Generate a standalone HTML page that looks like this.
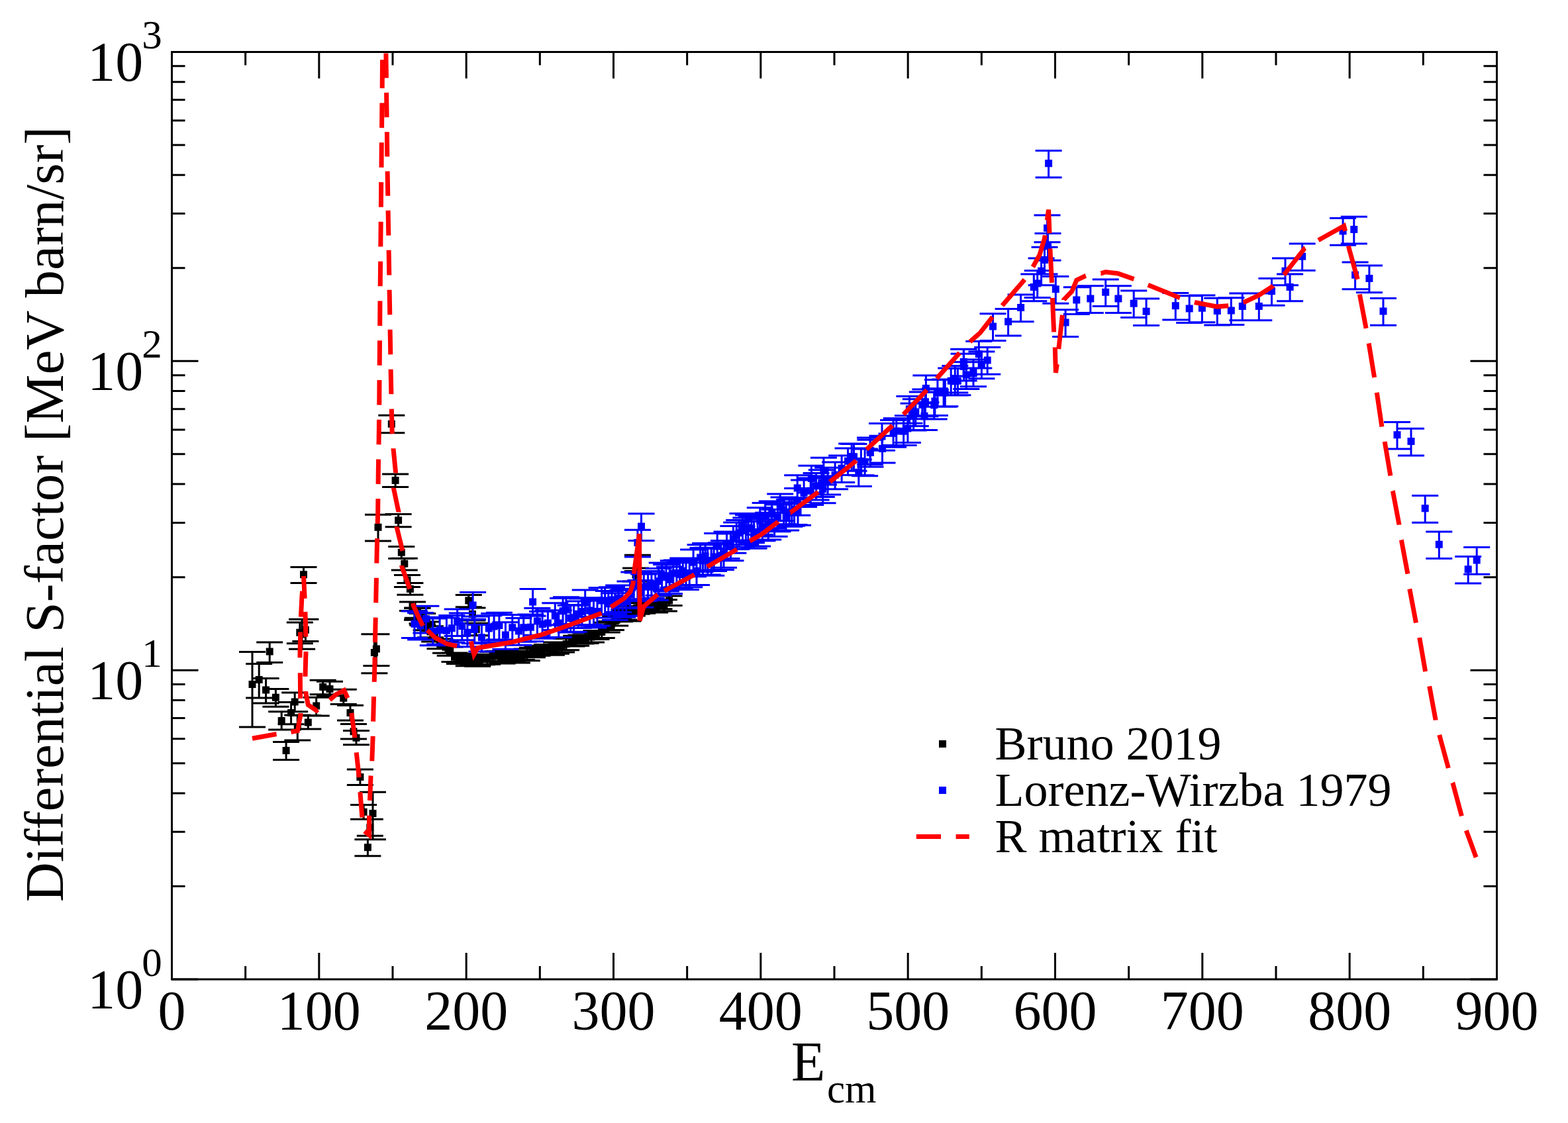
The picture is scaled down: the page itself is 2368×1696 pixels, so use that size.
<!DOCTYPE html><html><head><meta charset="utf-8"><style>html,body{margin:0;padding:0;background:#fff;}svg{display:block}</style></head><body>
<svg width="2368" height="1696" viewBox="0 0 2368 1696" font-family="Liberation Serif, Times New Roman, serif">
<rect x="0" y="0" width="2368" height="1696" fill="#fff"/>
<defs><clipPath id="cp"><rect x="259.5" y="78.5" width="2001" height="1400.5"/></clipPath></defs>
<g clip-path="url(#cp)">
<path d="M381.0 984.4V1098.0M361.0 984.4H401.0M361.0 1098.0H401.0M391.2 1002.4V1054.0M371.2 1002.4H411.2M371.2 1054.0H411.2M401.6 1024.4V1062.0M381.6 1024.4H421.6M381.6 1062.0H421.6M407.2 970.0V1000.4M387.2 970.0H427.2M387.2 1000.4H427.2M432.1 1120.5V1147.5M412.1 1120.5H452.1M412.1 1147.5H452.1M449.3 1080.0V1117.9M429.3 1080.0H469.3M429.3 1117.9H469.3M416.4 1040.4V1067.2M396.4 1040.4H436.4M396.4 1067.2H436.4M425.2 1074.8V1102.0M405.2 1074.8H445.2M405.2 1102.0H445.2M439.6 1060.4V1093.7M419.6 1060.4H459.6M419.6 1093.7H459.6M445.2 1046.0V1074.8M425.2 1046.0H465.2M425.2 1074.8H465.2M452.8 940.0V971.7M432.8 940.0H472.8M432.8 971.7H472.8M456.1 935.3V980.3M436.1 935.3H476.1M436.1 980.3H476.1M461.4 935.3V968.4M441.4 935.3H481.4M441.4 968.4H481.4M458.5 856.5V880.4M438.5 856.5H478.5M438.5 880.4H478.5M465.3 1080.5V1101.0M445.3 1080.5H485.3M445.3 1101.0H485.3M477.7 1053.2V1080.9M457.7 1053.2H497.7M457.7 1080.9H497.7M487.7 1027.2V1048.8M467.7 1027.2H507.7M467.7 1048.8H507.7M498.0 1029.2V1050.8M478.0 1029.2H518.0M478.0 1050.8H518.0M518.8 1041.2V1063.4M498.8 1041.2H538.8M498.8 1063.4H538.8M529.0 1065.3V1087.9M509.0 1065.3H549.0M509.0 1087.9H549.0M534.0 1093.4V1116.1M514.0 1093.4H554.0M514.0 1116.1H554.0M538.0 1103.6V1124.8M518.0 1103.6H558.0M518.0 1124.8H558.0M543.9 1162.0V1185.6M523.9 1162.0H563.9M523.9 1185.6H563.9M549.1 1215.4V1237.3M529.1 1215.4H569.1M529.1 1237.3H569.1M555.4 1267.8V1292.7M535.4 1267.8H575.4M535.4 1292.7H575.4M558.8 1237.3V1262.2M538.8 1237.3H578.8M538.8 1262.2H578.8M563.0 1196.2V1267.8M543.0 1196.2H583.0M543.0 1267.8H583.0M565.4 957.8V1016.7M545.4 957.8H585.4M545.4 1016.7H585.4M568.4 957.8V1005.5M548.4 957.8H588.4M548.4 1005.5H588.4M571.0 777.2V816.9M551.0 777.2H591.0M551.0 816.9H591.0M591.3 627.3V653.8M571.3 627.3H611.3M571.3 653.8H611.3M597.1 716.0V735.4M577.1 716.0H617.1M577.1 735.4H617.1M601.6 776.4V795.8M581.6 776.4H621.6M581.6 795.8H621.6M606.3 825.4V843.4M586.3 825.4H626.3M586.3 843.4H626.3M610.8 843.3V860.9M590.8 843.3H630.8M590.8 860.9H630.8M615.0 868.5V886.4M595.0 868.5H635.0M595.0 886.4H635.0M619.4 880.4V898.3M599.4 880.4H639.4M599.4 898.3H639.4M630.0 918.5V936.2M610.0 918.5H650.0M610.0 936.2H650.0M638.2 926.5V944.3M618.2 926.5H658.2M618.2 944.3H658.2M707.8 898.4V916.7M687.8 898.4H727.8M687.8 916.7H727.8M962.9 838.3V862.4M942.9 838.3H982.9M942.9 862.4H982.9M960.0 858.0V878.0M940.0 858.0H980.0M940.0 878.0H980.0M713.5 918.0V937.0M693.5 918.0H733.5M693.5 937.0H733.5M719.2 941.3V959.8M699.2 941.3H739.2M699.2 959.8H739.2M623.0 909.1V922.5M603.0 909.1H643.0M603.0 922.5H643.0M630.6 917.9V933.3M610.6 917.9H650.6M610.6 933.3H650.6M637.5 926.5V941.8M617.5 926.5H657.5M617.5 941.8H657.5M643.6 938.9V951.8M623.6 938.9H663.6M623.6 951.8H663.6M649.9 945.8V962.7M629.9 945.8H669.9M629.9 962.7H669.9M656.2 953.0V968.9M636.2 953.0H676.2M636.2 968.9H676.2M664.5 965.0V979.7M644.5 965.0H684.5M644.5 979.7H684.5M673.0 969.1V986.2M653.0 969.1H693.0M653.0 986.2H693.0M679.7 977.0V990.2M659.7 977.0H699.7M659.7 990.2H699.7M686.5 985.9V999.4M666.5 985.9H706.5M666.5 999.4H706.5M693.9 988.0V1002.5M673.9 988.0H713.9M673.9 1002.5H713.9M701.3 987.2V1000.2M681.3 987.2H721.3M681.3 1000.2H721.3M707.8 990.8V1005.7M687.8 990.8H727.8M687.8 1005.7H727.8M714.6 989.7V1004.7M694.6 989.7H734.6M694.6 1004.7H734.6M721.3 989.9V1006.2M701.3 989.9H741.3M701.3 1006.2H741.3M728.0 988.3V1003.7M708.0 988.3H748.0M708.0 1003.7H748.0M736.1 989.0V1003.2M716.1 989.0H756.1M716.1 1003.2H756.1M744.6 984.2V999.0M724.6 984.2H764.6M724.6 999.0H764.6M752.5 983.4V998.6M732.5 983.4H772.5M732.5 998.6H772.5M758.6 985.2V1001.9M738.6 985.2H778.6M738.6 1001.9H778.6M766.0 986.9V1001.1M746.0 986.9H786.0M746.0 1001.1H786.0M773.8 983.7V999.4M753.8 983.7H793.8M753.8 999.4H793.8M780.9 983.5V1001.1M760.9 983.5H800.9M760.9 1001.1H800.9M788.1 983.6V996.5M768.1 983.6H808.1M768.1 996.5H808.1M795.8 980.0V997.8M775.8 980.0H815.8M775.8 997.8H815.8M803.9 978.2V992.8M783.9 978.2H823.9M783.9 992.8H823.9M811.6 975.2V990.3M791.6 975.2H831.6M791.6 990.3H831.6M818.0 975.9V988.8M798.0 975.9H838.0M798.0 988.8H838.0M825.9 973.4V987.3M805.9 973.4H845.9M805.9 987.3H845.9M832.9 976.2V989.2M812.9 976.2H852.9M812.9 989.2H852.9M840.0 970.1V987.3M820.0 970.1H860.0M820.0 987.3H860.0M848.1 971.1V985.1M828.1 971.1H868.1M828.1 985.1H868.1M855.1 964.4V981.7M835.1 964.4H875.1M835.1 981.7H875.1M863.5 962.4V975.9M843.5 962.4H883.5M843.5 975.9H883.5M870.1 960.2V975.3M850.1 960.2H890.1M850.1 975.3H890.1M877.5 959.3V971.9M857.5 959.3H897.5M857.5 971.9H897.5M884.6 956.0V971.5M864.6 956.0H904.6M864.6 971.5H904.6M893.0 954.7V970.0M873.0 954.7H913.0M873.0 970.0H913.0M900.5 952.6V965.5M880.5 952.6H920.5M880.5 965.5H920.5M908.8 946.2V963.4M888.8 946.2H928.8M888.8 963.4H928.8M916.8 940.3V955.0M896.8 940.3H936.8M896.8 955.0H936.8M923.0 938.5V951.5M903.0 938.5H943.0M903.0 951.5H943.0M929.2 931.4V944.9M909.2 931.4H949.2M909.2 944.9H949.2M936.0 926.1V938.7M916.0 926.1H956.0M916.0 938.7H956.0M942.4 921.4V935.9M922.4 921.4H962.4M922.4 935.9H962.4M948.5 922.0V937.9M928.5 922.0H968.5M928.5 937.9H968.5M954.8 915.5V929.9M934.8 915.5H974.8M934.8 929.9H974.8M961.8 910.2V927.2M941.8 910.2H981.8M941.8 927.2H981.8M970.2 911.0V926.2M950.2 911.0H990.2M950.2 926.2H990.2M976.5 907.6V922.0M956.5 907.6H996.5M956.5 922.0H996.5M983.1 910.9V924.4M963.1 910.9H1003.1M963.1 924.4H1003.1M989.2 909.6V924.9M969.2 909.6H1009.2M969.2 924.9H1009.2M995.5 907.1V919.8M975.5 907.1H1015.5M975.5 919.8H1015.5M1002.9 905.8V922.9M982.9 905.8H1022.9M982.9 922.9H1022.9M1010.6 900.1V914.6M990.6 900.1H1030.6M990.6 914.6H1030.6" stroke="#000" stroke-width="3" fill="none"/><path d="M375.5 1028.1h11.0v11.0h-11.0zM385.7 1020.9h11.0v11.0h-11.0zM396.1 1036.5h11.0v11.0h-11.0zM401.7 978.5h11.0v11.0h-11.0zM426.6 1127.9h11.0v11.0h-11.0zM443.8 1092.5h11.0v11.0h-11.0zM410.9 1047.7h11.0v11.0h-11.0zM419.7 1083.0h11.0v11.0h-11.0zM434.1 1071.0h11.0v11.0h-11.0zM439.7 1054.5h11.0v11.0h-11.0zM447.3 949.7h11.0v11.0h-11.0zM450.6 952.3h11.0v11.0h-11.0zM455.9 945.7h11.0v11.0h-11.0zM453.0 862.3h11.0v11.0h-11.0zM459.8 1085.4h11.0v11.0h-11.0zM472.2 1060.5h11.0v11.0h-11.0zM482.2 1032.1h11.0v11.0h-11.0zM492.5 1034.9h11.0v11.0h-11.0zM513.3 1048.7h11.0v11.0h-11.0zM523.5 1070.9h11.0v11.0h-11.0zM528.5 1099.2h11.0v11.0h-11.0zM532.5 1108.7h11.0v11.0h-11.0zM538.4 1168.1h11.0v11.0h-11.0zM543.6 1220.7h11.0v11.0h-11.0zM549.9 1274.3h11.0v11.0h-11.0zM553.3 1244.3h11.0v11.0h-11.0zM557.5 1223.0h11.0v11.0h-11.0zM559.9 980.1h11.0v11.0h-11.0zM562.9 974.5h11.0v11.0h-11.0zM565.5 790.8h11.0v11.0h-11.0zM585.8 634.7h11.0v11.0h-11.0zM591.6 720.1h11.0v11.0h-11.0zM596.1 780.2h11.0v11.0h-11.0zM600.8 828.7h11.0v11.0h-11.0zM605.3 845.8h11.0v11.0h-11.0zM609.5 870.5h11.0v11.0h-11.0zM613.9 884.0h11.0v11.0h-11.0zM624.5 921.5h11.0v11.0h-11.0zM632.7 929.9h11.0v11.0h-11.0zM702.3 901.5h11.0v11.0h-11.0zM957.4 843.5h11.0v11.0h-11.0zM954.5 862.5h11.0v11.0h-11.0zM708.0 922.1h11.0v11.0h-11.0zM713.7 945.1h11.0v11.0h-11.0zM617.5 909.9h11.0v11.0h-11.0zM625.1 919.7h11.0v11.0h-11.0zM632.0 928.3h11.0v11.0h-11.0zM638.1 939.6h11.0v11.0h-11.0zM644.4 948.4h11.0v11.0h-11.0zM650.7 955.1h11.0v11.0h-11.0zM659.0 966.5h11.0v11.0h-11.0zM667.5 971.8h11.0v11.0h-11.0zM674.2 977.8h11.0v11.0h-11.0zM681.0 986.8h11.0v11.0h-11.0zM688.4 989.4h11.0v11.0h-11.0zM695.8 987.9h11.0v11.0h-11.0zM702.3 992.4h11.0v11.0h-11.0zM709.1 991.4h11.0v11.0h-11.0zM715.8 992.1h11.0v11.0h-11.0zM722.5 990.2h11.0v11.0h-11.0zM730.6 990.3h11.0v11.0h-11.0zM739.1 985.7h11.0v11.0h-11.0zM747.0 985.2h11.0v11.0h-11.0zM753.1 987.7h11.0v11.0h-11.0zM760.5 988.2h11.0v11.0h-11.0zM768.3 985.7h11.0v11.0h-11.0zM775.4 986.4h11.0v11.0h-11.0zM782.6 984.3h11.0v11.0h-11.0zM790.3 983.0h11.0v11.0h-11.0zM798.4 979.6h11.0v11.0h-11.0zM806.1 976.9h11.0v11.0h-11.0zM812.5 976.5h11.0v11.0h-11.0zM820.4 974.5h11.0v11.0h-11.0zM827.4 976.9h11.0v11.0h-11.0zM834.5 972.8h11.0v11.0h-11.0zM842.6 972.3h11.0v11.0h-11.0zM849.6 967.1h11.0v11.0h-11.0zM858.0 963.4h11.0v11.0h-11.0zM864.6 961.9h11.0v11.0h-11.0zM872.0 959.8h11.0v11.0h-11.0zM879.1 957.9h11.0v11.0h-11.0zM887.5 956.5h11.0v11.0h-11.0zM895.0 953.2h11.0v11.0h-11.0zM903.3 948.9h11.0v11.0h-11.0zM911.3 941.8h11.0v11.0h-11.0zM917.5 939.2h11.0v11.0h-11.0zM923.7 932.3h11.0v11.0h-11.0zM930.5 926.6h11.0v11.0h-11.0zM936.9 922.8h11.0v11.0h-11.0zM943.0 924.1h11.0v11.0h-11.0zM949.3 916.8h11.0v11.0h-11.0zM956.3 912.8h11.0v11.0h-11.0zM964.7 912.7h11.0v11.0h-11.0zM971.0 909.0h11.0v11.0h-11.0zM977.6 911.8h11.0v11.0h-11.0zM983.7 911.4h11.0v11.0h-11.0zM990.0 907.7h11.0v11.0h-11.0zM997.4 908.4h11.0v11.0h-11.0zM1005.1 901.5h11.0v11.0h-11.0z" fill="#000"/>
<path d="M1478.3 515.4V556.1M1458.3 515.4H1498.3M1458.3 556.1H1498.3M1491.2 524.6V565.3M1471.2 524.6H1511.2M1471.2 565.3H1511.2M1482.4 531.1V571.8M1462.4 531.1H1502.4M1462.4 571.8H1502.4M1455.2 527.4V568.1M1435.2 527.4H1475.2M1435.2 568.1H1475.2M1499.5 473.8V514.5M1479.5 473.8H1519.5M1479.5 514.5H1519.5M1522.6 466.4V507.1M1502.6 466.4H1542.6M1502.6 507.1H1542.6M1541.6 445.1V485.8M1521.6 445.1H1561.6M1521.6 485.8H1561.6M1561.3 414.1V454.8M1541.3 414.1H1581.3M1541.3 454.8H1581.3M1566.7 408.7V449.4M1546.7 408.7H1586.7M1546.7 449.4H1586.7M1572.6 390.0V430.7M1552.6 390.0H1592.6M1552.6 430.7H1592.6M1577.5 373.2V413.9M1557.5 373.2H1597.5M1557.5 413.9H1597.5M1582.5 352.5V393.2M1562.5 352.5H1602.5M1562.5 393.2H1602.5M1581.5 325.1V365.8M1561.5 325.1H1601.5M1561.5 365.8H1601.5M1583.6 227.4V268.1M1563.6 227.4H1603.6M1563.6 268.1H1603.6M1594.3 417.5V458.2M1574.3 417.5H1614.3M1574.3 458.2H1614.3M1609.1 467.8V508.5M1589.1 467.8H1629.1M1589.1 508.5H1629.1M1625.8 433.8V474.5M1605.8 433.8H1645.8M1605.8 474.5H1645.8M1646.8 431.8V472.5M1626.8 431.8H1666.8M1626.8 472.5H1666.8M1669.7 421.9V462.6M1649.7 421.9H1689.7M1649.7 462.6H1689.7M1688.9 431.8V472.5M1668.9 431.8H1708.9M1668.9 472.5H1708.9M1712.2 438.9V479.6M1692.2 438.9H1732.2M1692.2 479.6H1732.2M1731.1 450.9V491.6M1711.1 450.9H1751.1M1711.1 491.6H1751.1M1775.3 442.4V483.1M1755.3 442.4H1795.3M1755.3 483.1H1795.3M1796.2 446.7V487.4M1776.2 446.7H1816.2M1776.2 487.4H1816.2M1815.4 446.0V486.7M1795.4 446.0H1835.4M1795.4 486.7H1835.4M1838.3 450.2V490.9M1818.3 450.2H1858.3M1818.3 490.9H1858.3M1859.3 449.8V490.5M1839.3 449.8H1879.3M1839.3 490.5H1879.3M1876.3 443.1V483.8M1856.3 443.1H1896.3M1856.3 483.8H1896.3M1901.3 443.1V483.8M1881.3 443.1H1921.3M1881.3 483.8H1921.3M1920.5 420.5V461.2M1900.5 420.5H1940.5M1900.5 461.2H1940.5M1941.0 390.0V430.7M1921.0 390.0H1961.0M1921.0 430.7H1961.0M1948.1 414.1V454.8M1928.1 414.1H1968.1M1928.1 454.8H1968.1M1966.7 367.9V408.6M1946.7 367.9H1986.7M1946.7 408.6H1986.7M2028.1 329.6V370.3M2008.1 329.6H2048.1M2008.1 370.3H2048.1M2044.8 327.3V368.0M2024.8 327.3H2064.8M2024.8 368.0H2064.8M2046.6 396.0V436.7M2026.6 396.0H2066.6M2026.6 436.7H2066.6M2067.9 401.1V441.8M2047.9 401.1H2087.9M2047.9 441.8H2087.9M2089.0 450.6V491.3M2069.0 450.6H2109.0M2069.0 491.3H2109.0M2110.0 637.4V678.1M2090.0 637.4H2130.0M2090.0 678.1H2130.0M2131.0 647.3V688.0M2111.0 647.3H2151.0M2111.0 688.0H2151.0M2152.2 748.5V789.2M2132.2 748.5H2172.2M2132.2 789.2H2172.2M2173.3 802.9V843.6M2153.3 802.9H2193.3M2153.3 843.6H2193.3M2217.2 840.4V881.1M2197.2 840.4H2237.2M2197.2 881.1H2237.2M2230.2 826.6V867.3M2210.2 826.6H2250.2M2210.2 867.3H2250.2M1204.2 717.7V758.4M1184.2 717.7H1224.2M1184.2 758.4H1224.2M1225.4 703.2V743.9M1205.4 703.2H1245.4M1205.4 743.9H1245.4M1243.9 691.3V732.0M1223.9 691.3H1263.9M1223.9 732.0H1263.9M1242.6 719.1V759.8M1222.6 719.1H1262.6M1222.6 759.8H1262.6M1286.2 670.1V710.8M1266.2 670.1H1306.2M1266.2 710.8H1306.2M1296.8 693.9V734.6M1276.8 693.9H1316.8M1276.8 734.6H1316.8M1306.1 678.1V718.8M1286.1 678.1H1326.1M1286.1 718.8H1326.1M1314.0 660.9V701.6M1294.0 660.9H1334.0M1294.0 701.6H1334.0M1332.5 658.2V698.9M1312.5 658.2H1352.5M1312.5 698.9H1352.5M1353.7 631.7V672.4M1333.7 631.7H1373.7M1333.7 672.4H1373.7M1370.9 627.8V668.5M1350.9 627.8H1390.9M1350.9 668.5H1390.9M1373.4 598.5V639.2M1353.4 598.5H1393.4M1353.4 639.2H1393.4M1382.8 602.7V643.4M1362.8 602.7H1402.8M1362.8 643.4H1402.8M1392.8 592.0V632.7M1372.8 592.0H1412.8M1372.8 632.7H1412.8M1397.4 588.1V628.8M1377.4 588.1H1417.4M1377.4 628.8H1417.4M1398.4 567.1V607.8M1378.4 567.1H1418.4M1378.4 607.8H1418.4M1411.9 586.8V627.5M1391.9 586.8H1431.9M1391.9 627.5H1431.9M1415.9 573.6V614.3M1395.9 573.6H1435.9M1395.9 614.3H1435.9M1425.1 573.6V614.3M1405.1 573.6H1445.1M1405.1 614.3H1445.1M1436.2 556.0V596.7M1416.2 556.0H1456.2M1416.2 596.7H1456.2M1442.3 556.4V597.1M1422.3 556.4H1462.3M1422.3 597.1H1462.3M1446.4 556.0V596.7M1426.4 556.0H1466.4M1426.4 596.7H1466.4M1455.6 527.3V568.0M1435.6 527.3H1475.6M1435.6 568.0H1475.6M1459.3 546.8V587.5M1439.3 546.8H1479.3M1439.3 587.5H1479.3M1470.0 543.1V583.8M1450.0 543.1H1490.0M1450.0 583.8H1490.0M968.5 775.7V816.4M948.5 775.7H988.5M948.5 816.4H988.5M962.9 800.2V840.9M942.9 800.2H982.9M942.9 840.9H982.9M714.1 894.6V935.3M694.1 894.6H734.1M694.1 935.3H734.1M804.6 889.6V930.3M784.6 889.6H824.6M784.6 930.3H824.6M626.0 922.9V963.6M606.0 922.9H646.0M606.0 963.6H646.0M635.1 925.4V966.1M615.1 925.4H655.1M615.1 966.1H655.1M643.4 915.2V955.9M623.4 915.2H663.4M623.4 955.9H663.4M653.7 934.1V974.8M633.7 934.1H673.7M633.7 974.8H673.7M664.1 932.3V973.0M644.1 932.3H684.1M644.1 973.0H684.1M674.4 932.9V973.6M654.4 932.9H694.4M654.4 973.6H694.4M682.3 929.5V970.2M662.3 929.5H702.3M662.3 970.2H702.3M690.7 919.9V960.6M670.7 919.9H710.7M670.7 960.6H710.7M697.8 926.1V966.8M677.8 926.1H717.8M677.8 966.8H717.8M705.9 936.0V976.7M685.9 936.0H725.9M685.9 976.7H725.9M716.7 931.1V971.8M696.7 931.1H736.7M696.7 971.8H736.7M727.4 943.4V984.1M707.4 943.4H747.4M707.4 984.1H747.4M738.3 929.7V970.4M718.3 929.7H758.3M718.3 970.4H758.3M746.1 926.6V967.3M726.1 926.6H766.1M726.1 967.3H766.1M753.9 925.3V966.0M733.9 925.3H773.9M733.9 966.0H773.9M763.4 939.7V980.4M743.4 939.7H783.4M743.4 980.4H783.4M773.8 928.5V969.2M753.8 928.5H793.8M753.8 969.2H793.8M783.4 933.6V974.3M763.4 933.6H803.4M763.4 974.3H803.4M790.7 928.5V969.2M770.7 928.5H810.7M770.7 969.2H810.7M801.4 928.0V968.7M781.4 928.0H821.4M781.4 968.7H821.4M811.4 918.6V959.3M791.4 918.6H831.4M791.4 959.3H831.4M819.1 923.5V964.2M799.1 923.5H839.1M799.1 964.2H839.1M827.4 921.8V962.5M807.4 921.8H847.4M807.4 962.5H847.4M838.3 910.7V951.4M818.3 910.7H858.3M818.3 951.4H858.3M843.8 921.8V962.5M823.8 921.8H863.8M823.8 962.5H863.8M850.1 903.4V944.1M830.1 903.4H870.1M830.1 944.1H870.1M854.9 901.7V942.4M834.9 901.7H874.9M834.9 942.4H874.9M861.7 914.3V955.0M841.7 914.3H881.7M841.7 955.0H881.7M866.6 913.5V954.2M846.6 913.5H886.6M846.6 954.2H886.6M873.5 907.9V948.6M853.5 907.9H893.5M853.5 948.6H893.5M878.9 904.1V944.8M858.9 904.1H898.9M858.9 944.8H898.9M883.7 890.9V931.6M863.7 890.9H903.7M863.7 931.6H903.7M890.6 902.8V943.5M870.6 902.8H910.6M870.6 943.5H910.6M896.5 907.3V948.0M876.5 907.3H916.5M876.5 948.0H916.5M902.0 904.3V945.0M882.0 904.3H922.0M882.0 945.0H922.0M908.6 887.8V928.5M888.6 887.8H928.6M888.6 928.5H928.6M913.7 887.8V928.5M893.7 887.8H933.7M893.7 928.5H933.7M918.8 892.4V933.1M898.8 892.4H938.8M898.8 933.1H938.8M924.0 886.8V927.5M904.0 886.8H944.0M904.0 927.5H944.0M928.8 895.8V936.5M908.8 895.8H948.8M908.8 936.5H948.8M934.2 883.9V924.6M914.2 883.9H954.2M914.2 924.6H954.2M940.2 891.5V932.2M920.2 891.5H960.2M920.2 932.2H960.2M945.7 889.2V929.9M925.7 889.2H965.7M925.7 929.9H965.7M951.5 878.1V918.8M931.5 878.1H971.5M931.5 918.8H971.5M957.3 864.1V904.8M937.3 864.1H977.3M937.3 904.8H977.3M962.9 865.1V905.8M942.9 865.1H982.9M942.9 905.8H982.9M967.4 876.5V917.2M947.4 876.5H987.4M947.4 917.2H987.4M972.3 867.0V907.7M952.3 867.0H992.3M952.3 907.7H992.3M978.6 865.9V906.6M958.6 865.9H998.6M958.6 906.6H998.6M983.9 862.6V903.3M963.9 862.6H1003.9M963.9 903.3H1003.9M989.8 865.7V906.4M969.8 865.7H1009.8M969.8 906.4H1009.8M994.6 858.5V899.2M974.6 858.5H1014.6M974.6 899.2H1014.6M999.7 849.9V890.6M979.7 849.9H1019.7M979.7 890.6H1019.7M1006.1 852.4V893.1M986.1 852.4H1026.1M986.1 893.1H1026.1M1011.1 856.0V896.7M991.1 856.0H1031.1M991.1 896.7H1031.1M1016.8 846.7V887.4M996.8 846.7H1036.8M996.8 887.4H1036.8M1021.9 846.1V886.8M1001.9 846.1H1041.9M1001.9 886.8H1041.9M1026.6 848.3V889.0M1006.6 848.3H1046.6M1006.6 889.0H1046.6M1031.3 842.9V883.6M1011.3 842.9H1051.3M1011.3 883.6H1051.3M1036.0 849.8V890.5M1016.0 849.8H1056.0M1016.0 890.5H1056.0M1041.2 846.1V886.8M1021.2 846.1H1061.2M1021.2 886.8H1061.2M1047.1 830.0V870.7M1027.1 830.0H1067.1M1027.1 870.7H1067.1M1052.0 842.9V883.6M1032.0 842.9H1072.0M1032.0 883.6H1072.0M1057.6 822.8V863.5M1037.6 822.8H1077.6M1037.6 863.5H1077.6M1061.4 827.5V868.2M1041.4 827.5H1081.4M1041.4 868.2H1081.4M1065.1 820.5V861.2M1045.1 820.5H1085.1M1045.1 861.2H1085.1M1068.7 827.3V868.0M1048.7 827.3H1088.7M1048.7 868.0H1088.7M1074.2 828.5V869.2M1054.2 828.5H1094.2M1054.2 869.2H1094.2M1078.1 821.8V862.5M1058.1 821.8H1098.1M1058.1 862.5H1098.1M1083.2 805.6V846.3M1063.2 805.6H1103.2M1063.2 846.3H1103.2M1088.9 819.7V860.4M1068.9 819.7H1108.9M1068.9 860.4H1108.9M1093.0 816.5V857.2M1073.0 816.5H1113.0M1073.0 857.2H1113.0M1097.5 802.9V843.6M1077.5 802.9H1117.5M1077.5 843.6H1117.5M1103.5 806.1V846.8M1083.5 806.1H1123.5M1083.5 846.8H1123.5M1107.4 794.5V835.2M1087.4 794.5H1127.4M1087.4 835.2H1127.4M1112.2 788.9V829.6M1092.2 788.9H1132.2M1092.2 829.6H1132.2M1116.1 785.5V826.2M1096.1 785.5H1136.1M1096.1 826.2H1136.1M1121.5 775.4V816.1M1101.5 775.4H1141.5M1101.5 816.1H1141.5M1126.3 782.0V822.7M1106.3 782.0H1146.3M1106.3 822.7H1146.3M1129.9 777.7V818.4M1109.9 777.7H1149.9M1109.9 818.4H1149.9M1134.9 779.0V819.7M1114.9 779.0H1154.9M1114.9 819.7H1154.9M1138.6 787.5V828.2M1118.6 787.5H1158.6M1118.6 828.2H1158.6M1144.1 784.2V824.9M1124.1 784.2H1164.1M1124.1 824.9H1164.1M1147.8 766.7V807.4M1127.8 766.7H1167.8M1127.8 807.4H1167.8M1151.4 776.1V816.8M1131.4 776.1H1171.4M1131.4 816.8H1171.4M1155.6 759.6V800.3M1135.6 759.6H1175.6M1135.6 800.3H1175.6M1160.2 774.3V815.0M1140.2 774.3H1180.2M1140.2 815.0H1180.2M1165.7 757.0V797.7M1145.7 757.0H1185.7M1145.7 797.7H1185.7M1169.6 769.5V810.2M1149.6 769.5H1189.6M1149.6 810.2H1189.6M1174.5 762.0V802.7M1154.5 762.0H1194.5M1154.5 802.7H1194.5M1178.2 745.9V786.6M1158.2 745.9H1198.2M1158.2 786.6H1198.2M1183.5 751.1V791.8M1163.5 751.1H1203.5M1163.5 791.8H1203.5M1187.1 760.3V801.0M1167.1 760.3H1207.1M1167.1 801.0H1207.1M1192.2 754.5V795.2M1172.2 754.5H1212.2M1172.2 795.2H1212.2M1195.9 753.6V794.3M1175.9 753.6H1215.9M1175.9 794.3H1215.9M1199.6 751.7V792.4M1179.6 751.7H1219.6M1179.6 792.4H1219.6M1204.2 737.6V778.3M1184.2 737.6H1224.2M1184.2 778.3H1224.2M1205.0 752.6V793.3M1185.0 752.6H1225.0M1185.0 793.3H1225.0M1214.1 724.9V765.6M1194.1 724.9H1234.1M1194.1 765.6H1234.1M1224.2 721.9V762.6M1204.2 721.9H1244.2M1204.2 762.6H1244.2M1232.6 714.4V755.1M1212.6 714.4H1252.6M1212.6 755.1H1252.6M1240.8 709.8V750.5M1220.8 709.8H1260.8M1220.8 750.5H1260.8M1250.1 706.2V746.9M1230.1 706.2H1270.1M1230.1 746.9H1270.1M1261.1 698.0V738.7M1241.1 698.0H1281.1M1241.1 738.7H1281.1M1271.1 687.9V728.6M1251.1 687.9H1291.1M1251.1 728.6H1291.1M1280.5 676.9V717.6M1260.5 676.9H1300.5M1260.5 717.6H1300.5M1289.5 670.5V711.2M1269.5 670.5H1309.5M1269.5 711.2H1309.5M1300.4 677.1V717.8M1280.4 677.1H1320.4M1280.4 717.8H1320.4M1314.4 664.3V705.0M1294.4 664.3H1334.4M1294.4 705.0H1334.4M1332.0 639.6V680.3M1312.0 639.6H1352.0M1312.0 680.3H1352.0M1349.1 634.5V675.2M1329.1 634.5H1369.1M1329.1 675.2H1369.1M1364.6 631.9V672.6M1344.6 631.9H1384.6M1344.6 672.6H1384.6M1379.6 609.3V650.0M1359.6 609.3H1399.6M1359.6 650.0H1399.6M1396.0 608.9V649.6M1376.0 608.9H1416.0M1376.0 649.6H1416.0M1410.7 592.4V633.1M1390.7 592.4H1430.7M1390.7 633.1H1430.7M1427.3 573.1V613.8M1407.3 573.1H1447.3M1407.3 613.8H1447.3M1442.3 552.4V593.1M1422.3 552.4H1462.3M1422.3 593.1H1462.3M1455.6 534.3V575.0M1435.6 534.3H1475.6M1435.6 575.0H1475.6" stroke="#0000ff" stroke-width="3" fill="none"/><path d="M1472.8 529.2h11.0v11.0h-11.0zM1485.7 538.4h11.0v11.0h-11.0zM1476.9 544.9h11.0v11.0h-11.0zM1449.7 541.2h11.0v11.0h-11.0zM1494.0 487.6h11.0v11.0h-11.0zM1517.1 480.2h11.0v11.0h-11.0zM1536.1 458.9h11.0v11.0h-11.0zM1555.8 427.9h11.0v11.0h-11.0zM1561.2 422.5h11.0v11.0h-11.0zM1567.1 403.8h11.0v11.0h-11.0zM1572.0 387.0h11.0v11.0h-11.0zM1577.0 366.3h11.0v11.0h-11.0zM1576.0 338.9h11.0v11.0h-11.0zM1578.1 241.2h11.0v11.0h-11.0zM1588.8 431.3h11.0v11.0h-11.0zM1603.6 481.6h11.0v11.0h-11.0zM1620.3 447.6h11.0v11.0h-11.0zM1641.3 445.6h11.0v11.0h-11.0zM1664.2 435.7h11.0v11.0h-11.0zM1683.4 445.6h11.0v11.0h-11.0zM1706.7 452.7h11.0v11.0h-11.0zM1725.6 464.7h11.0v11.0h-11.0zM1769.8 456.2h11.0v11.0h-11.0zM1790.7 460.5h11.0v11.0h-11.0zM1809.9 459.8h11.0v11.0h-11.0zM1832.8 464.0h11.0v11.0h-11.0zM1853.8 463.6h11.0v11.0h-11.0zM1870.8 456.9h11.0v11.0h-11.0zM1895.8 456.9h11.0v11.0h-11.0zM1915.0 434.3h11.0v11.0h-11.0zM1935.5 403.8h11.0v11.0h-11.0zM1942.6 427.9h11.0v11.0h-11.0zM1961.2 381.7h11.0v11.0h-11.0zM2022.6 343.4h11.0v11.0h-11.0zM2039.3 341.1h11.0v11.0h-11.0zM2041.1 409.8h11.0v11.0h-11.0zM2062.4 414.9h11.0v11.0h-11.0zM2083.5 464.4h11.0v11.0h-11.0zM2104.5 651.2h11.0v11.0h-11.0zM2125.5 661.1h11.0v11.0h-11.0zM2146.7 762.3h11.0v11.0h-11.0zM2167.8 816.7h11.0v11.0h-11.0zM2211.7 854.2h11.0v11.0h-11.0zM2224.7 840.4h11.0v11.0h-11.0zM1198.7 731.5h11.0v11.0h-11.0zM1219.9 717.0h11.0v11.0h-11.0zM1238.4 705.1h11.0v11.0h-11.0zM1237.1 732.9h11.0v11.0h-11.0zM1280.7 683.9h11.0v11.0h-11.0zM1291.3 707.7h11.0v11.0h-11.0zM1300.6 691.9h11.0v11.0h-11.0zM1308.5 674.7h11.0v11.0h-11.0zM1327.0 672.0h11.0v11.0h-11.0zM1348.2 645.5h11.0v11.0h-11.0zM1365.4 641.6h11.0v11.0h-11.0zM1367.9 612.3h11.0v11.0h-11.0zM1377.3 616.5h11.0v11.0h-11.0zM1387.3 605.8h11.0v11.0h-11.0zM1391.9 601.9h11.0v11.0h-11.0zM1392.9 580.9h11.0v11.0h-11.0zM1406.4 600.6h11.0v11.0h-11.0zM1410.4 587.4h11.0v11.0h-11.0zM1419.6 587.4h11.0v11.0h-11.0zM1430.7 569.8h11.0v11.0h-11.0zM1436.8 570.2h11.0v11.0h-11.0zM1440.9 569.8h11.0v11.0h-11.0zM1450.1 541.1h11.0v11.0h-11.0zM1453.8 560.6h11.0v11.0h-11.0zM1464.5 556.9h11.0v11.0h-11.0zM963.0 789.5h11.0v11.0h-11.0zM957.4 814.0h11.0v11.0h-11.0zM708.6 908.4h11.0v11.0h-11.0zM799.1 903.4h11.0v11.0h-11.0zM620.5 936.7h11.0v11.0h-11.0zM629.6 939.2h11.0v11.0h-11.0zM637.9 929.0h11.0v11.0h-11.0zM648.2 947.9h11.0v11.0h-11.0zM658.6 946.1h11.0v11.0h-11.0zM668.9 946.7h11.0v11.0h-11.0zM676.8 943.3h11.0v11.0h-11.0zM685.2 933.7h11.0v11.0h-11.0zM692.3 939.9h11.0v11.0h-11.0zM700.4 949.8h11.0v11.0h-11.0zM711.2 944.9h11.0v11.0h-11.0zM721.9 957.2h11.0v11.0h-11.0zM732.8 943.5h11.0v11.0h-11.0zM740.6 940.4h11.0v11.0h-11.0zM748.4 939.1h11.0v11.0h-11.0zM757.9 953.5h11.0v11.0h-11.0zM768.3 942.3h11.0v11.0h-11.0zM777.9 947.4h11.0v11.0h-11.0zM785.2 942.3h11.0v11.0h-11.0zM795.9 941.8h11.0v11.0h-11.0zM805.9 932.4h11.0v11.0h-11.0zM813.6 937.3h11.0v11.0h-11.0zM821.9 935.6h11.0v11.0h-11.0zM832.8 924.5h11.0v11.0h-11.0zM838.3 935.6h11.0v11.0h-11.0zM844.6 917.2h11.0v11.0h-11.0zM849.4 915.5h11.0v11.0h-11.0zM856.2 928.1h11.0v11.0h-11.0zM861.1 927.3h11.0v11.0h-11.0zM868.0 921.7h11.0v11.0h-11.0zM873.4 917.9h11.0v11.0h-11.0zM878.2 904.7h11.0v11.0h-11.0zM885.1 916.6h11.0v11.0h-11.0zM891.0 921.1h11.0v11.0h-11.0zM896.5 918.1h11.0v11.0h-11.0zM903.1 901.6h11.0v11.0h-11.0zM908.2 901.6h11.0v11.0h-11.0zM913.3 906.2h11.0v11.0h-11.0zM918.5 900.6h11.0v11.0h-11.0zM923.3 909.6h11.0v11.0h-11.0zM928.7 897.7h11.0v11.0h-11.0zM934.7 905.3h11.0v11.0h-11.0zM940.2 903.0h11.0v11.0h-11.0zM946.0 891.9h11.0v11.0h-11.0zM951.8 877.9h11.0v11.0h-11.0zM957.4 878.9h11.0v11.0h-11.0zM961.9 890.3h11.0v11.0h-11.0zM966.8 880.8h11.0v11.0h-11.0zM973.1 879.7h11.0v11.0h-11.0zM978.4 876.4h11.0v11.0h-11.0zM984.3 879.5h11.0v11.0h-11.0zM989.1 872.3h11.0v11.0h-11.0zM994.2 863.7h11.0v11.0h-11.0zM1000.6 866.2h11.0v11.0h-11.0zM1005.6 869.8h11.0v11.0h-11.0zM1011.3 860.5h11.0v11.0h-11.0zM1016.4 859.9h11.0v11.0h-11.0zM1021.1 862.1h11.0v11.0h-11.0zM1025.8 856.7h11.0v11.0h-11.0zM1030.5 863.6h11.0v11.0h-11.0zM1035.7 859.9h11.0v11.0h-11.0zM1041.6 843.8h11.0v11.0h-11.0zM1046.5 856.7h11.0v11.0h-11.0zM1052.1 836.6h11.0v11.0h-11.0zM1055.9 841.3h11.0v11.0h-11.0zM1059.6 834.3h11.0v11.0h-11.0zM1063.2 841.1h11.0v11.0h-11.0zM1068.7 842.3h11.0v11.0h-11.0zM1072.6 835.6h11.0v11.0h-11.0zM1077.7 819.4h11.0v11.0h-11.0zM1083.4 833.5h11.0v11.0h-11.0zM1087.5 830.3h11.0v11.0h-11.0zM1092.0 816.7h11.0v11.0h-11.0zM1098.0 819.9h11.0v11.0h-11.0zM1101.9 808.3h11.0v11.0h-11.0zM1106.7 802.7h11.0v11.0h-11.0zM1110.6 799.3h11.0v11.0h-11.0zM1116.0 789.2h11.0v11.0h-11.0zM1120.8 795.8h11.0v11.0h-11.0zM1124.4 791.5h11.0v11.0h-11.0zM1129.4 792.8h11.0v11.0h-11.0zM1133.1 801.3h11.0v11.0h-11.0zM1138.6 798.0h11.0v11.0h-11.0zM1142.3 780.5h11.0v11.0h-11.0zM1145.9 789.9h11.0v11.0h-11.0zM1150.1 773.4h11.0v11.0h-11.0zM1154.7 788.1h11.0v11.0h-11.0zM1160.2 770.8h11.0v11.0h-11.0zM1164.1 783.3h11.0v11.0h-11.0zM1169.0 775.8h11.0v11.0h-11.0zM1172.7 759.7h11.0v11.0h-11.0zM1178.0 764.9h11.0v11.0h-11.0zM1181.6 774.1h11.0v11.0h-11.0zM1186.7 768.3h11.0v11.0h-11.0zM1190.4 767.4h11.0v11.0h-11.0zM1194.1 765.5h11.0v11.0h-11.0zM1198.7 751.4h11.0v11.0h-11.0zM1199.5 766.4h11.0v11.0h-11.0zM1208.6 738.7h11.0v11.0h-11.0zM1218.7 735.7h11.0v11.0h-11.0zM1227.1 728.2h11.0v11.0h-11.0zM1235.3 723.6h11.0v11.0h-11.0zM1244.6 720.0h11.0v11.0h-11.0zM1255.6 711.8h11.0v11.0h-11.0zM1265.6 701.7h11.0v11.0h-11.0zM1275.0 690.7h11.0v11.0h-11.0zM1284.0 684.3h11.0v11.0h-11.0zM1294.9 690.9h11.0v11.0h-11.0zM1308.9 678.1h11.0v11.0h-11.0zM1326.5 653.4h11.0v11.0h-11.0zM1343.6 648.3h11.0v11.0h-11.0zM1359.1 645.7h11.0v11.0h-11.0zM1374.1 623.1h11.0v11.0h-11.0zM1390.5 622.7h11.0v11.0h-11.0zM1405.2 606.2h11.0v11.0h-11.0zM1421.8 586.9h11.0v11.0h-11.0zM1436.8 566.2h11.0v11.0h-11.0zM1450.1 548.1h11.0v11.0h-11.0z" fill="#0000ff"/>
<path d="M381.0 1115.3L416.8 1108.7L417.6 1108.6M439.5 1105.5L440.5 1105.3L449.4 1103.8L453.8 1080.0L453.8 1077.0M453.6 1055.0L453.5 1040.0L453.3 1016.2M453.0 993.3L453.0 990.0L453.7 954.5M454.4 931.6L456.0 900.0L456.6 892.9M458.5 870.0L460.0 900.0L460.1 903.9M460.9 924.0L461.5 940.0L461.7 961.7M462.0 984.0L462.0 985.0L461.0 1020.0L461.0 1021.7M461.5 1044.0L461.5 1045.0L465.3 1064.4L478.0 1073.2L480.0 1071.6M498.0 1057.2L507.7 1048.6L519.7 1042.6L525.0 1054.3M530.8 1076.8L535.9 1113.8L535.9 1114.2M538.2 1136.4L541.9 1170.0L542.2 1174.0M543.9 1196.2L546.7 1232.0L546.8 1234.5M550.5 1255.2L557.5 1261.0L557.5 1233.0L557.6 1231.7M558.5 1209.0L560.0 1173.0L560.1 1171.5M561.8 1149.3L563.1 1113.3L563.1 1111.8M563.6 1089.6L564.5 1053.3L564.5 1052.1M565.2 1029.9L565.5 1020.0L566.1 992.3M566.5 970.1L567.2 932.6M567.7 910.4L568.4 874.3L568.4 872.8M568.8 850.6L569.2 832.0L569.7 813.1M570.2 790.9L570.7 773.0L570.9 753.3M571.1 731.1L571.3 713.0L571.6 693.6M572.0 671.4L572.3 653.0L572.5 633.8M572.7 611.6L572.8 606.0L573.0 574.1M573.2 551.9L573.5 514.3M573.7 492.1L574.0 454.5M574.2 432.3L574.6 394.7M574.8 372.5L575.2 334.9M575.4 312.7L575.5 300.0L575.7 275.1M576.0 252.9L576.3 215.3M576.6 193.1L576.9 155.5M577.2 133.3L577.5 90.2M577.8 64.6L578.0 40.0L581.5 40.0L582.0 55.0M582.9 80.5L583.4 117.8M583.6 139.9L584.1 177.1M584.4 199.2L584.8 236.5M585.1 258.6L585.8 295.8M586.1 317.9L586.8 355.6M587.1 377.8L587.5 400.0L587.8 415.5M588.1 437.8L588.8 475.4M589.1 497.7L589.8 535.4M590.1 557.7L590.9 595.3M591.3 617.6L592.2 652.9L592.4 655.1M594.0 677.2L594.0 677.6L597.5 712.9L597.3 714.5M594.6 736.6L594.5 737.6L601.9 772.8L601.8 773.3M599.4 795.4L599.3 796.6L607.9 831.8M606.9 854.0L606.8 855.3L613.0 873.0L618.8 889.4M623.5 911.1L624.1 913.9L632.0 932.0L638.7 945.3M645.3 951.7L657.3 963.2L674.5 972.3L690.2 975.7M922.5 917.0L943.0 903.3L952.0 893.4L956.0 881.6L956.4 876.9M1003.2 892.3L1047.5 868.5L1048.6 867.8M1068.0 855.9L1112.3 830.1L1113.0 829.7M1132.3 817.1L1150.0 807.1L1175.0 788.0L1175.2 787.8M1193.7 774.1L1193.8 774.1L1234.7 743.7L1235.7 742.9M1253.2 727.8L1292.9 696.0L1293.3 695.6M1308.7 678.8L1345.8 644.4L1347.7 642.5M1364.3 625.9L1398.7 590.2L1399.8 588.9M1414.6 571.7L1447.6 534.7L1449.2 533.0M1464.8 516.1L1480.0 502.9L1498.9 478.6M1513.5 461.5L1547.4 422.3M1559.8 403.2L1560.3 402.4L1570.0 385.0L1577.5 360.0L1578.2 355.2M1581.3 332.5L1583.6 316.7L1585.0 352.4M1585.9 375.3L1588.4 425.5L1588.5 427.0M1589.4 449.9L1589.4 450.0L1591.6 501.0L1591.6 501.6M1593.3 524.4L1594.4 563.0L1596.3 550.0M1598.8 527.2L1604.3 476.6L1604.4 475.8M1606.6 453.0L1606.6 452.7L1618.8 440.0L1625.8 423.1L1639.6 416.6L1639.9 416.5M1662.5 412.9L1662.7 412.9L1669.7 410.7L1688.2 412.9L1712.2 421.4L1712.5 421.5M1733.7 430.4L1734.2 430.6L1781.6 449.7L1781.9 449.8M1803.9 456.5L1805.0 456.8L1838.3 463.1L1855.2 461.7M1877.6 456.5L1879.4 456.1L1900.6 446.1L1922.6 432.0L1922.9 431.6M1938.8 415.0L1940.1 413.7L1970.2 375.2L1971.3 374.6M1991.0 362.8L2029.6 341.2L2031.6 348.9M2036.5 371.4L2037.3 375.2L2050.2 421.7M2053.5 444.6L2053.9 447.3L2063.1 495.8M2067.1 518.5L2067.6 521.1L2075.6 570.0M2079.2 592.8L2079.6 595.0L2086.9 644.4M2091.2 667.0L2091.4 668.3L2099.9 718.5M2103.3 741.3L2103.4 741.6L2113.0 792.4L2113.0 792.5M2116.3 815.3L2116.4 815.7L2125.9 866.6L2125.9 866.6M711.2 968.5L715.8 988.5L721.5 978.5L772.0 970.0L817.8 958.6L853.0 946.5L908.6 926.0M957.3 866.8L965.5 806.3L966.2 937.2L972.1 916.0L993.3 897.6M2128.8 889.5L2138.3 939.6L2138.5 940.6M2143.7 963.0L2152.6 1014.2L2152.6 1014.2M2158.7 1036.4L2168.1 1087.4L2168.1 1087.5M2173.7 1109.8L2187.1 1159.2L2187.3 1160.0M2193.8 1182.1L2193.9 1182.3L2207.4 1232.3M2214.3 1254.2L2218.3 1265.0L2229.1 1294.7" stroke="#ff0000" stroke-width="7" fill="none" stroke-linejoin="miter" stroke-miterlimit="4"/>
</g>
<path d="M259.50 1479.0V1439.0M259.50 78.5V118.5M481.83 1479.0V1439.0M481.83 78.5V118.5M704.17 1479.0V1439.0M704.17 78.5V118.5M926.50 1479.0V1439.0M926.50 78.5V118.5M1148.83 1479.0V1439.0M1148.83 78.5V118.5M1371.17 1479.0V1439.0M1371.17 78.5V118.5M1593.50 1479.0V1439.0M1593.50 78.5V118.5M1815.83 1479.0V1439.0M1815.83 78.5V118.5M2038.17 1479.0V1439.0M2038.17 78.5V118.5M2260.50 1479.0V1439.0M2260.50 78.5V118.5M370.67 1479.0V1459.0M370.67 78.5V98.5M593.00 1479.0V1459.0M593.00 78.5V98.5M815.33 1479.0V1459.0M815.33 78.5V98.5M1037.67 1479.0V1459.0M1037.67 78.5V98.5M1260.00 1479.0V1459.0M1260.00 78.5V98.5M1482.33 1479.0V1459.0M1482.33 78.5V98.5M1704.67 1479.0V1459.0M1704.67 78.5V98.5M1927.00 1479.0V1459.0M1927.00 78.5V98.5M2149.33 1479.0V1459.0M2149.33 78.5V98.5M259.5 1479.00H299.5M2260.5 1479.00H2220.5M259.5 1338.47H279.5M2260.5 1338.47H2240.5M259.5 1256.26H279.5M2260.5 1256.26H2240.5M259.5 1197.94H279.5M2260.5 1197.94H2240.5M259.5 1152.70H279.5M2260.5 1152.70H2240.5M259.5 1115.73H279.5M2260.5 1115.73H2240.5M259.5 1084.48H279.5M2260.5 1084.48H2240.5M259.5 1057.41H279.5M2260.5 1057.41H2240.5M259.5 1033.53H279.5M2260.5 1033.53H2240.5M259.5 1012.17H299.5M2260.5 1012.17H2220.5M259.5 871.64H279.5M2260.5 871.64H2240.5M259.5 789.43H279.5M2260.5 789.43H2240.5M259.5 731.10H279.5M2260.5 731.10H2240.5M259.5 685.86H279.5M2260.5 685.86H2240.5M259.5 648.90H279.5M2260.5 648.90H2240.5M259.5 617.65H279.5M2260.5 617.65H2240.5M259.5 590.57H279.5M2260.5 590.57H2240.5M259.5 566.69H279.5M2260.5 566.69H2240.5M259.5 545.33H299.5M2260.5 545.33H2220.5M259.5 404.80H279.5M2260.5 404.80H2240.5M259.5 322.60H279.5M2260.5 322.60H2240.5M259.5 264.27H279.5M2260.5 264.27H2240.5M259.5 219.03H279.5M2260.5 219.03H2240.5M259.5 182.07H279.5M2260.5 182.07H2240.5M259.5 150.81H279.5M2260.5 150.81H2240.5M259.5 123.74H279.5M2260.5 123.74H2240.5M259.5 99.86H279.5M2260.5 99.86H2240.5M259.5 78.50H299.5M2260.5 78.50H2220.5" stroke="#000" stroke-width="3" fill="none"/>
<rect x="259.5" y="78.5" width="2001.0" height="1400.5" stroke="#000" stroke-width="3" fill="none"/>
<text x="259.50" y="1554.5" font-size="84" text-anchor="middle">0</text>
<text x="481.83" y="1554.5" font-size="84" text-anchor="middle">100</text>
<text x="704.17" y="1554.5" font-size="84" text-anchor="middle">200</text>
<text x="926.50" y="1554.5" font-size="84" text-anchor="middle">300</text>
<text x="1148.83" y="1554.5" font-size="84" text-anchor="middle">400</text>
<text x="1371.17" y="1554.5" font-size="84" text-anchor="middle">500</text>
<text x="1593.50" y="1554.5" font-size="84" text-anchor="middle">600</text>
<text x="1815.83" y="1554.5" font-size="84" text-anchor="middle">700</text>
<text x="2038.17" y="1554.5" font-size="84" text-anchor="middle">800</text>
<text x="2260.50" y="1554.5" font-size="84" text-anchor="middle">900</text>
<text x="132.2" y="1522.70" font-size="84">10</text><text x="214.2" y="1473.80" font-size="61">0</text>
<text x="132.2" y="1055.87" font-size="84">10</text><text x="214.2" y="1006.97" font-size="61">1</text>
<text x="132.2" y="589.03" font-size="84">10</text><text x="214.2" y="540.13" font-size="61">2</text>
<text x="132.2" y="122.20" font-size="84">10</text><text x="214.2" y="73.30" font-size="61">3</text>
<text x="1195" y="1632" font-size="84">E</text><text x="1249" y="1665" font-size="61">cm</text>
<text transform="translate(95 776.7) rotate(-90)" font-size="83.1" text-anchor="middle">Differential S-factor [MeV barn/sr]</text>
<rect x="1418" y="1118" width="11" height="11" fill="#000"/>
<text x="1502.6" y="1147" font-size="72">Bruno 2019</text>
<rect x="1418" y="1188" width="11" height="11" fill="#0000ff"/>
<text x="1502.6" y="1216.7" font-size="72">Lorenz-Wirzba 1979</text>
<path d="M1383.8 1263.4H1421M1443.6 1263.4H1463.8" stroke="#ff0000" stroke-width="7" fill="none"/>
<text x="1502.6" y="1287.1" font-size="72">R matrix fit</text>
</svg></body></html>
